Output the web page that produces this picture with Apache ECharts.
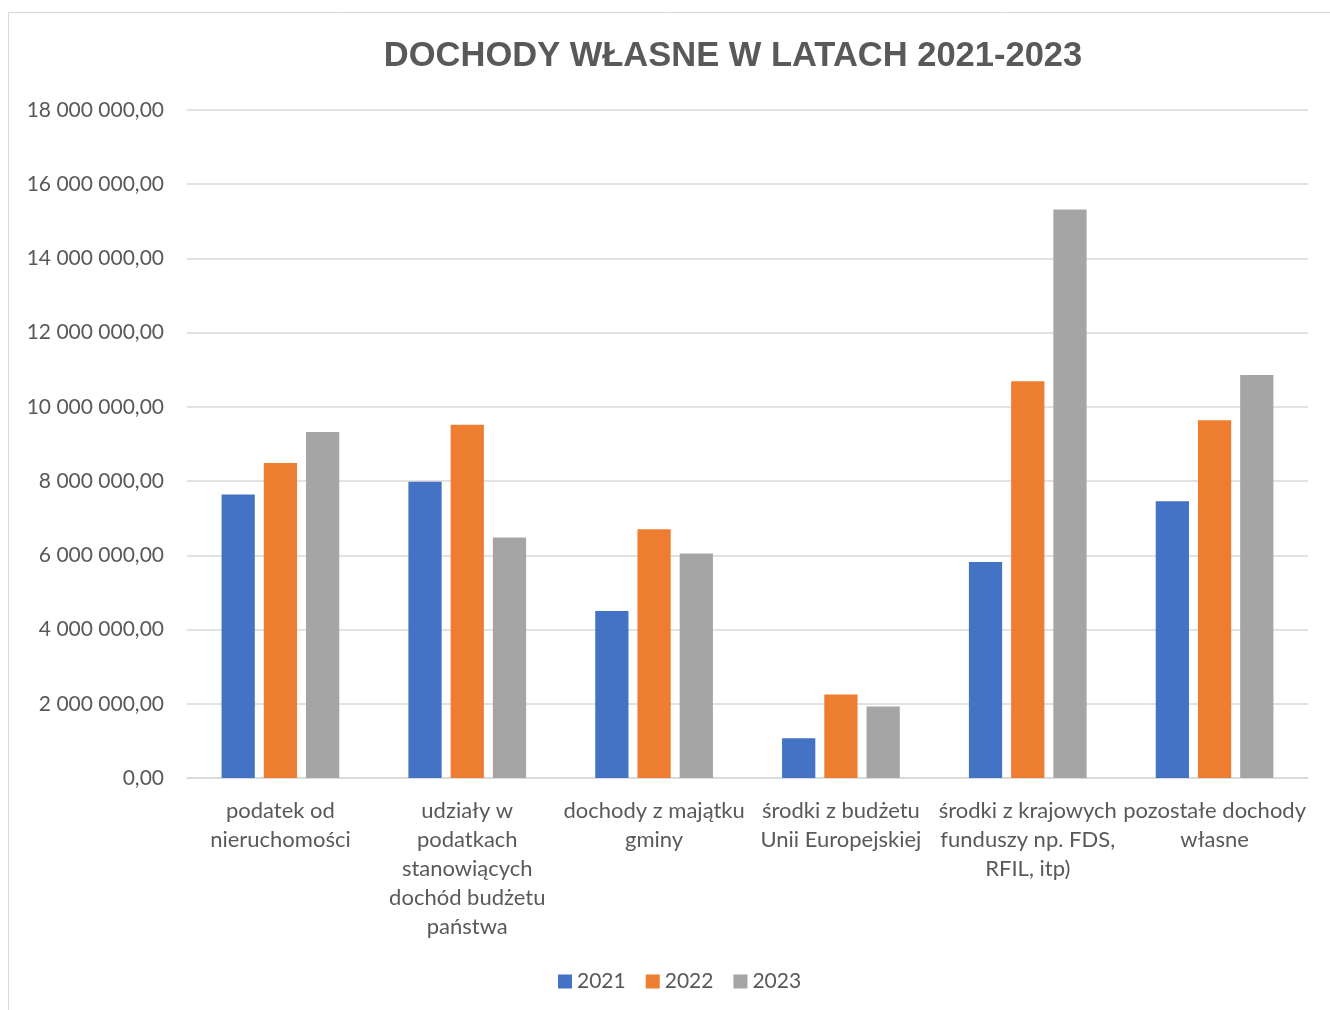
<!DOCTYPE html>
<html>
<head>
<meta charset="utf-8">
<script src="https://cdn.jsdelivr.net/npm/echarts@6/dist/echarts.min.js"></script>
<style>
  html, body { margin: 0; padding: 0; background: #fff; }
  #chart { width: 1330px; height: 1010px; }
</style>
</head>
<body>
<div id="chart"></div>
<script>
  // dane
  var categories = [
    'podatek od\nnieruchomości',
    'udziały w\npodatkach\nstanowiących\ndochód budżetu\npaństwa',
    'dochody z majątku\ngminy',
    'środki z budżetu\nUnii Europejskiej',
    'środki z krajowych\nfunduszy np. FDS,\nRFIL, itp)',
    'pozostałe dochody\nwłasne'
  ];
  var years = ['2021', '2022', '2023'];
  var values2021 = [7640000, 7980000, 4500000, 1070000, 5820000, 7460000];
  var values2022 = [8490000, 9520000, 6700000, 2250000, 10690000, 9640000];
  var values2023 = [9320000, 6480000, 6050000, 1930000, 15320000, 10860000];
  var colors = ['#4472C4', '#ED7D31', '#A5A5A5'];

  function fmt(v) {
    var s = Math.round(v).toString().replace(/\B(?=(\d{3})+(?!\d))/g, ' ');
    return s + ',00';
  }

  var chart = echarts.init(document.getElementById('chart'));
  var font = 'Lato, "Open Sans", sans-serif';

  chart.setOption({
    animation: false,
    color: colors,
    title: {
      text: 'DOCHODY WŁASNE W LATACH 2021-2023',
      left: 728,
      textAlign: 'center',
      top: 34,
      textStyle: {
        fontFamily: '"Liberation Sans", Arial, sans-serif',
        fontSize: 34.5,
        fontWeight: 'bold',
        color: '#595959'
      }
    },
    graphic: [{
      type: 'rect',
      shape: { x: 8.5, y: 12.5, width: 1400, height: 1100 },
      style: { fill: 'none', stroke: '#d9d9d9', lineWidth: 1 },
      silent: true
    }],
    legend: {
      data: years,
      bottom: 13,
      left: 553,
      icon: 'rect',
      itemWidth: 14,
      itemHeight: 14,
      itemGap: 20,
      textStyle: { fontFamily: font, fontSize: 21, color: '#595959' }
    },
    grid: {
      left: 187,
      right: 22,
      top: 110,
      bottom: 232
    },
    xAxis: {
      type: 'category',
      data: categories,
      axisLine: { lineStyle: { color: '#d9d9d9', width: 1.5 } },
      axisTick: { show: false },
      axisLabel: {
        interval: 0,
        margin: 18,
        fontFamily: font,
        fontSize: 22,
        lineHeight: 29,
        color: '#595959'
      }
    },
    yAxis: {
      type: 'value',
      min: 0,
      max: 18000000,
      interval: 2000000,
      axisLine: { show: false },
      axisTick: { show: false },
      splitLine: { lineStyle: { color: '#d9d9d9', width: 1.5 } },
      axisLabel: {
        margin: 23,
        formatter: fmt,
        fontFamily: font,
        fontSize: 21,
        color: '#595959'
      }
    },
    series: [
      { name: years[0], type: 'bar', data: values2021, barGap: '27%', barCategoryGap: '37%' },
      { name: years[1], type: 'bar', data: values2022 },
      { name: years[2], type: 'bar', data: values2023 }
    ]
  });
</script>
</body>
</html>
